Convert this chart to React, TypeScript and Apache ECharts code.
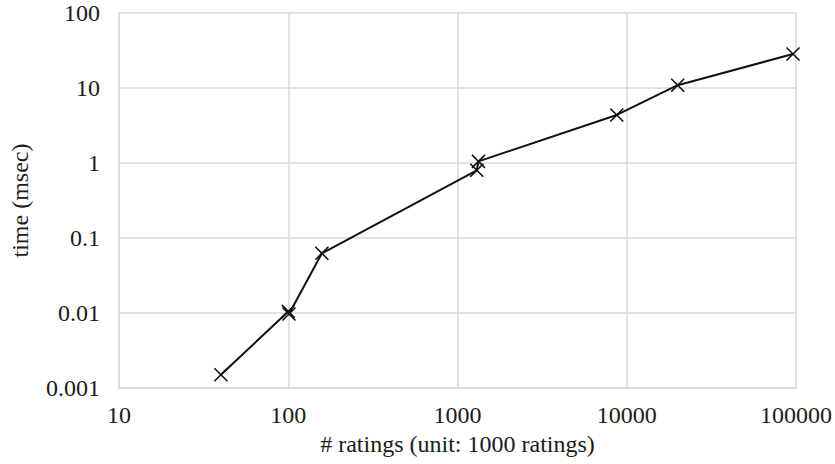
import React, { useEffect, useRef } from "react";
import * as echarts from "echarts";

const ratings = [40, 100, 101, 158, 1300, 1330, 8730, 20000, 96000];
const times = [0.0015, 0.0105, 0.0097, 0.0625, 0.8, 1.05, 4.37, 10.9, 28.4];
const xTickLabels = ["10", "100", "1000", "10000", "100000"];
const yTickLabels = ["0.001", "0.01", "0.1", "1", "10", "100"];

const FONT = "Liberation Serif";

export default function App() {
  const ref = useRef<HTMLDivElement>(null);
  useEffect(() => {
    if (!ref.current) return;
    const chart = echarts.init(ref.current, undefined, { renderer: "svg" });
    const grid = "#d9d9d9";
    chart.setOption({
      animation: false,
      backgroundColor: "#ffffff",
      textStyle: { fontFamily: FONT },
      grid: { left: 116, right: 38, top: 13, bottom: 76 },
      xAxis: {
        type: "log",
        logBase: 10,
        min: 10,
        max: 100000,
        name: "# ratings (unit: 1000 ratings)",
        nameLocation: "middle",
        nameGap: 38,
        nameTextStyle: { fontFamily: FONT, fontSize: 24, color: "#1a1a1a" },
        axisLine: { show: true, lineStyle: { color: grid, width: 1.5 } },
        axisTick: { show: false },
        minorTick: { show: false },
        splitLine: { show: true, lineStyle: { color: grid, width: 1.5 } },
        axisLabel: {
          fontFamily: FONT,
          fontSize: 24,
          color: "#1a1a1a",
          margin: 15,
          formatter: (v: number) => xTickLabels[Math.round(Math.log10(v)) - 1] ?? "",
        },
      },
      yAxis: {
        type: "log",
        logBase: 10,
        min: 0.001,
        max: 100,
        name: "time (msec)",
        nameLocation: "middle",
        nameGap: 87,
        nameTextStyle: { fontFamily: FONT, fontSize: 24, color: "#1a1a1a" },
        axisLine: { show: true, lineStyle: { color: grid, width: 1.5 } },
        axisTick: { show: false },
        splitLine: { show: true, lineStyle: { color: grid, width: 1.5 } },
        axisLabel: {
          fontFamily: FONT,
          fontSize: 24,
          color: "#1a1a1a",
          margin: 19,
          formatter: (v: number) => yTickLabels[Math.round(Math.log10(v)) + 3] ?? "",
        },
      },
      series: [
        {
          type: "line",
          data: ratings.map((r, i) => [r, times[i]]),
          symbol: "path://M0,0L10,10M10,0L0,10",
          symbolSize: 13,
          showAllSymbol: true,
          lineStyle: { color: "#111111", width: 2 },
          itemStyle: { color: "none", borderColor: "#111111", borderWidth: 1.6 },
        },
      ],
    });
    return () => chart.dispose();
  }, []);
  return <div ref={ref} style={{ width: 835, height: 464, position: "absolute", left: 0, top: 0 }} />;
}
